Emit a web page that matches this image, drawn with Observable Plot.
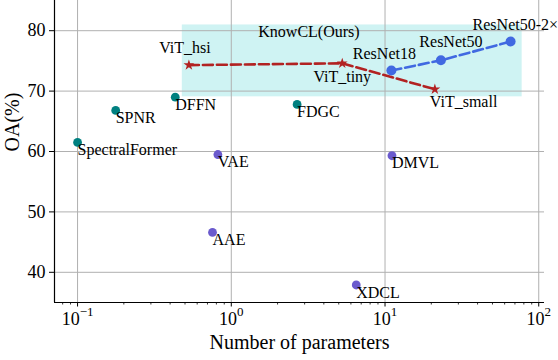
<!DOCTYPE html>
<html><head><meta charset="utf-8">
<script src="https://cdn.jsdelivr.net/npm/d3@7"></script>
<script src="https://cdn.jsdelivr.net/npm/@observablehq/plot@0.6"></script>
<style>
body{margin:0;background:#fff}
#chart svg{font-family:"Liberation Serif","Times New Roman",serif;}
</style>
</head><body><div id="chart"></div>
<script>
// Baseline methods
const baseNames  = ["SpectralFormer","SPNR","DFFN","FDGC","VAE","DMVL","AAE","XDCL"];
const baseParams = [0.1, 0.177, 0.432, 2.68, 0.818, 11.1, 0.755, 6.5];
const baseOA     = [61.5, 66.8, 69.0, 67.8, 59.5, 59.3, 46.6, 37.9];
const baseGroup  = ["supervised","supervised","supervised","supervised","self-supervised","self-supervised","self-supervised","self-supervised"];

// KnowCL with ViT backbones
const vitNames  = ["ViT_hsi","ViT_tiny","ViT_small"];
const vitParams = [0.53, 5.27, 21.1];
const vitOA     = [74.3, 74.6, 70.3];

// KnowCL with ResNet backbones
const resNames  = ["ResNet18","ResNet50","ResNet50-2×"];
const resParams = [11.0, 23.1, 65.6];
const resOA     = [73.4, 75.1, 78.2];

// Highlight region (KnowCL)
const highlightX = [0.48, 78];
const highlightY = [69.05, 80.95];
const highlightLabel = "KnowCL(Ours)";

// Axes
const xTicks = [0.1, 1, 10, 100];
const xTickLabels = ["10^−1","10^0","10^1","10^2"];
const yTicks = [40, 50, 60, 70, 80];
const xDomain = [0.0708, 109];
const yDomain = [35, 85];
const xLabel = "Number of parameters";
const yLabel = "OA(%)";

const base = baseNames.map((n,i)=>({name:n, x:baseParams[i], y:baseOA[i], g:baseGroup[i]}));
const vit = vitNames.map((n,i)=>({name:n, x:vitParams[i], y:vitOA[i]}));
const res = resNames.map((n,i)=>({name:n, x:resParams[i], y:resOA[i]}));

const minor = [];
for (let e = -2; e <= 2; e++) for (let k = 2; k <= 9; k++) {
  const v = k * Math.pow(10, e);
  if (v >= xDomain[0] && v <= xDomain[1]) minor.push(v);
}

const vitLabelStyle = {
  "ViT_hsi":  {anchor:"middle", dx:-4, dy:-17},
  "ViT_tiny": {anchor:"middle", dx:0, dy:14},
  "ViT_small":{anchor:"start", dx:-5, dy:13}
};
const resLabelStyle = {
  "ResNet18":   {anchor:"middle", dx:-7, dy:-17},
  "ResNet50":   {anchor:"middle", dx:10, dy:-18},
  "ResNet50-2×":{anchor:"start", dx:-38, dy:-17}
};

const labelMarks = (data, styles) => data.map(d => Plot.text([d], {
  x:"x", y:"y", text:"name", textAnchor: styles[d.name].anchor,
  dx: styles[d.name].dx, dy: styles[d.name].dy, fontSize: 16, fill:"#000"
}));

const grid = "#b0b0b0";
const plot = Plot.plot({
  width: 558, height: 360,
  marginLeft: 54, marginRight: 14, marginTop: 0, marginBottom: 58,
  style: {background:"#fff", color:"#000", fontFamily:"'Liberation Serif','Times New Roman',serif"},
  x: {type:"log", domain:xDomain},
  y: {domain:yDomain},
  marks: [
    Plot.rect([{x1:highlightX[0], x2:highlightX[1], y1:highlightY[0], y2:highlightY[1]}],
      {x1:"x1", x2:"x2", y1:"y1", y2:"y2", fill:"#cff3f3"}),
    Plot.gridX(xTicks, {stroke:grid, strokeOpacity:1, strokeWidth:1}),
    Plot.gridY(yTicks, {stroke:grid, strokeOpacity:1, strokeWidth:1}),
    Plot.ruleX([xDomain[0]], {stroke:"#000", strokeWidth:1.2}),
    Plot.ruleY([yDomain[0]], {stroke:"#000", strokeWidth:1.2}),
    Plot.axisX(minor, {tickSize:2.5, text:null, label:null, strokeWidth:0.8}),
    Plot.axisX(xTicks, {tickSize:4.5, tickPadding:5, label:null, fontSize:18,
      tickFormat: d => xTickLabels[xTicks.indexOf(d)]}),
    Plot.axisY(yTicks, {tickSize:5, tickPadding:4, label:null, fontSize:18}),
    Plot.text([xLabel], {frameAnchor:"bottom", dy:46, fontSize:20, fill:"#000"}),
    Plot.text([yLabel], {frameAnchor:"left", dx:-42, rotate:-90, fontSize:20, fill:"#000"}),
    Plot.text([highlightLabel], {x:()=>highlightX[0], y:()=>highlightY[1], textAnchor:"start",
      dx:76, dy:6.5, fontSize:16, fill:"#000"}),
    Plot.line(vit, {x:"x", y:"y", stroke:"#b22222", strokeWidth:2.6, strokeDasharray:"10,4"}),
    Plot.line(res, {x:"x", y:"y", stroke:"#4169e1", strokeWidth:2.6, strokeDasharray:"10,4"}),
    Plot.dot(vit, {x:"x", y:"y", symbol:"star", r:3.4, fill:"#b22222"}),
    Plot.dot(res, {x:"x", y:"y", r:5, fill:"#4169e1"}),
    Plot.dot(base, {x:"x", y:"y", r:4.4, fill: d => d.g === "supervised" ? "#008080" : "#6a5acd"}),
    Plot.text(base, {x:"x", y:"y", text:"name", textAnchor:"start", dx:0, dy:7.5, fontSize:16, fill:"#000"}),
    ...labelMarks(vit, vitLabelStyle),
    ...labelMarks(res, resLabelStyle)
  ]
});
document.getElementById("chart").appendChild(plot);

// render superscript exponents on the x tick labels
plot.querySelectorAll('g[aria-label="x-axis tick label"] text').forEach(t => {
  const s = t.textContent;
  if (!s.includes("^")) return;
  const [b, e] = s.split("^");
  t.textContent = "";
  const ns = "http://www.w3.org/2000/svg";
  const t1 = document.createElementNS(ns, "tspan"); t1.textContent = b;
  const t2 = document.createElementNS(ns, "tspan"); t2.textContent = e;
  t2.setAttribute("dy", "-0.7em"); t2.setAttribute("font-size", "13");
  t.appendChild(t1); t.appendChild(t2);
});
</script>
</body></html>
